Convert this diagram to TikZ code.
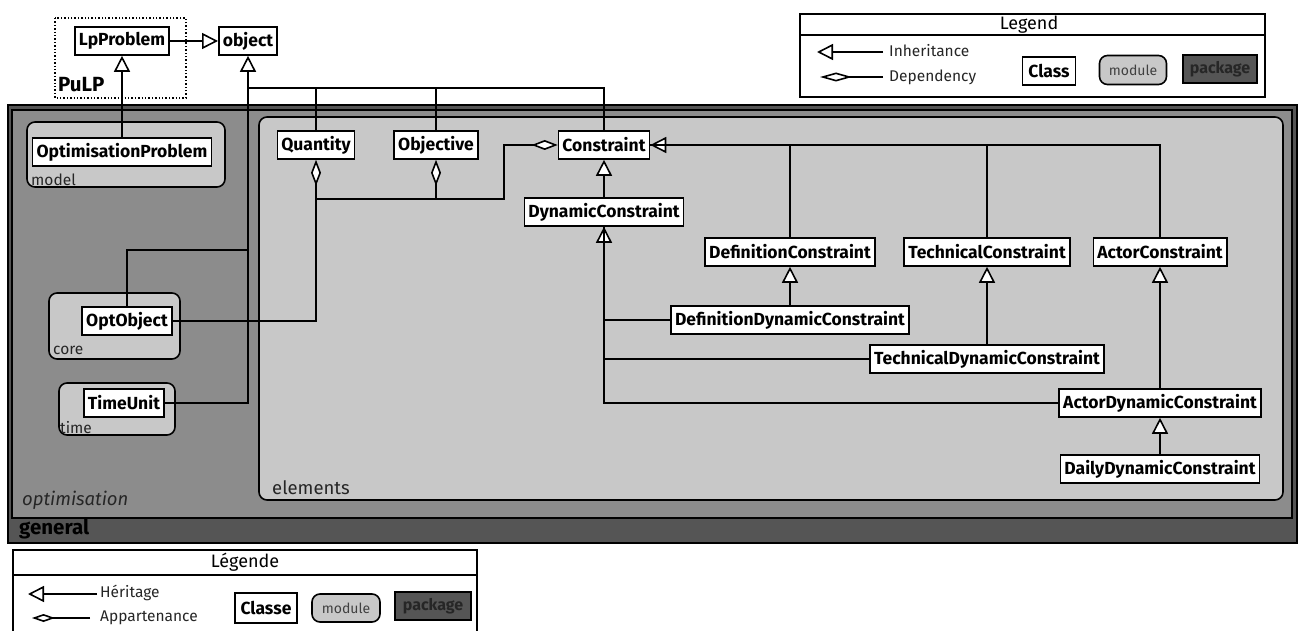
\documentclass[tikz,border=0pt]{standalone}
\usepackage{fontspec}
\setmainfont{Fira Sans}
\usetikzlibrary{arrows.meta}

\definecolor{genfill}{HTML}{555555}
\definecolor{optfill}{HTML}{8C8C8C}
\definecolor{modfill}{HTML}{C8C8C8}

\begin{document}
\begin{tikzpicture}[x=1pt, y=-1pt,
    cls/.style={draw, fill=white, line width=1.6pt, font=\bfseries\fontsize{17.5}{19}\selectfont,
      inner xsep=4pt, inner ysep=2pt, minimum height=28pt},
    modbox/.style={draw, fill=modfill, line width=1.6pt, rounded corners=8pt},
    pkgbox/.style={draw, line width=1.6pt},
    lbl/.style={anchor=west, inner sep=0pt, text=black!85},
    inh/.style={-{Triangle[fill=white, length=16pt, width=16pt]}, line width=1.6pt},
    dep/.style={-{Diamond[fill=white, length=26pt, width=10pt]}, line width=1.6pt},
    link/.style={line width=1.6pt}]
    \useasboundingbox (0,0) rectangle (1301,631);

    % packages and modules
    \draw[pkgbox, fill=genfill] (8,105) rectangle (1297,543);
    \draw[pkgbox, fill=optfill] (12,110) rectangle (1292,518);
    \draw[modbox] (259,117) rectangle (1283,500);
    \draw[modbox] (27,122) rectangle (225,187);
    \draw[modbox] (49,293) rectangle (180,359);
    \draw[modbox] (59,383) rectangle (175,435);
    \draw[dotted, line width=1.4pt] (55,18) rectangle (186,98);

    \node[lbl, text=black, font=\bfseries\fontsize{20.5}{22}\selectfont] (pulpLabel) at (58,85) {PuLP};
    \node[lbl, text=black, font=\bfseries\fontsize{20.5}{22}\selectfont] (generalLabel) at (19,529) {general};
    \node[lbl, font=\itshape\fontsize{18.5}{20}\selectfont] (optimLabel) at (22,500) {optimisation};
    \node[lbl, font=\fontsize{18.5}{20}\selectfont] (elementsLabel) at (272,488) {elements};
    \node[lbl, font=\fontsize{15.5}{17}\selectfont] (modelLabel) at (31,180) {model};
    \node[lbl, font=\fontsize{15.5}{17}\selectfont] (coreLabel) at (53,350) {core};
    \node[lbl, font=\fontsize{15.5}{17}\selectfont] (timeLabel) at (60,428) {time};

    % classes
    \node[cls] (LpProblem) at (122,41) {LpProblem};
    \node[cls] (object) at (248,41) {object};
    \node[cls] (OptimisationProblem) at (122,152) {OptimisationProblem};
    \node[cls] (OptObject) at (127,321) {OptObject};
    \node[cls] (TimeUnit) at (124,403) {TimeUnit};
    \node[cls] (Quantity) at (316,145) {Quantity};
    \node[cls] (Objective) at (436,145) {Objective};
    \node[cls] (Constraint) at (604,145) {Constraint};
    \node[cls] (DynamicConstraint) at (604,212) {DynamicConstraint};
    \node[cls] (DefinitionConstraint) at (790,252) {DefinitionConstraint};
    \node[cls] (TechnicalConstraint) at (987,252) {TechnicalConstraint};
    \node[cls] (ActorConstraint) at (1160,252) {ActorConstraint};
    \node[cls] (DefinitionDynamicConstraint) at (790,320) {DefinitionDynamicConstraint};
    \node[cls] (TechnicalDynamicConstraint) at (987,359) {TechnicalDynamicConstraint};
    \node[cls] (ActorDynamicConstraint) at (1160,403) {ActorDynamicConstraint};
    \node[cls] (DailyDynamicConstraint) at (1160,469) {DailyDynamicConstraint};

    \coordinate (objBus) at (248,88);
    \coordinate (optBus) at (248,250);
    \coordinate (depBus) at (316,199);
    \coordinate (depTurn) at (504,199);

    % inheritance
    \draw[inh] (LpProblem) -- (object);
    \draw[inh] (OptimisationProblem.north) -- (LpProblem.south);
    \draw[inh] (TimeUnit.east) -| (object.south);
    \draw[link] (OptObject.north) |- (optBus);
    \foreach \c in {Quantity, Objective, Constraint}
        \draw[link] (\c.north) |- (objBus);
    \draw[inh] (DynamicConstraint.north) -- (Constraint.south);
    \draw[inh] (ActorConstraint.north) |- (Constraint.east);
    \foreach \c in {DefinitionConstraint, TechnicalConstraint}
        \draw[link] (\c.north) |- (Constraint.east);
    \draw[inh] (ActorDynamicConstraint.west) -| (DynamicConstraint.south);
    \foreach \c in {DefinitionDynamicConstraint, TechnicalDynamicConstraint}
        \draw[link] (\c.west) -| (DynamicConstraint.south);
    \foreach \c in {Definition, Technical, Actor}
        \draw[inh] (\c DynamicConstraint.north) -- (\c Constraint.south);
    \draw[inh] (DailyDynamicConstraint.north) -- (ActorDynamicConstraint.south);

    % dependencies
    \draw[dep] (OptObject.east) -| (Quantity.south);
    \draw[dep] (depBus) -| (Objective.south);
    \draw[dep] (depBus) -- (depTurn) |- (Constraint.west);

    % legend
    \draw[pkgbox, fill=white] (800,14) rectangle (1265,35);
    \draw[pkgbox, fill=white] (800,35) rectangle (1265,97);
    \node[font=\fontsize{18}{20}\selectfont, inner sep=0pt] (legTitle) at (1029,25) {Legend};
    \coordinate (legInhA) at (817,52);
    \coordinate (legInhB) at (883,52);
    \coordinate (legDepA) at (820,77);
    \coordinate (legDepB) at (883,77);
    \draw[inh] (legInhB) -- (legInhA);
    \draw[dep, -{Diamond[fill=white, length=32pt, width=9pt]}] (legDepB) -- (legDepA);
    \node[lbl, font=\fontsize{15.5}{17}\selectfont] (legInh) at (889,51) {Inheritance};
    \node[lbl, font=\fontsize{15.5}{17}\selectfont] (legDep) at (889,77) {Dependency};
    \node[cls, minimum width=53pt] (legClass) at (1049,71) {Class};
    \node[modbox, minimum width=67pt, minimum height=29pt, inner sep=0pt, text=black!75,
        font=\fontsize{14}{16}\selectfont] (legModule) at (1133,70) {module};
    \node[pkgbox, fill=genfill, minimum width=74pt, minimum height=28pt, inner sep=0pt, text=black!85,
        font=\bfseries\fontsize{16}{18}\selectfont] (legPackage) at (1220,69) {package};

    \draw[pkgbox, fill=white] (13,550) rectangle (477,575);
    \draw[pkgbox, fill=white] (13,575) rectangle (477,640);
    \node[font=\fontsize{18}{20}\selectfont, inner sep=0pt] (legendeTitle) at (245,562) {Légende};
    \coordinate (legHerA) at (28,594);
    \coordinate (legHerB) at (97,594);
    \coordinate (legAppA) at (32,618);
    \coordinate (legAppB) at (90,618);
    \draw[inh] (legHerB) -- (legHerA);
    \draw[dep, -{Diamond[fill=white, length=23pt, width=8pt]}] (legAppB) -- (legAppA);
    \node[lbl, font=\fontsize{15.5}{17}\selectfont] (legHer) at (100,593) {Héritage};
    \node[lbl, font=\fontsize{15.5}{17}\selectfont] (legApp) at (100,618) {Appartenance};
    \node[cls, minimum width=62pt, minimum height=30pt] (legClasse) at (266,608) {Classe};
    \node[modbox, minimum width=68pt, minimum height=28pt, inner sep=0pt, text=black!75,
        font=\fontsize{14}{16}\selectfont] (legModule2) at (346,608) {module};
    \node[pkgbox, fill=genfill, minimum width=76pt, minimum height=28pt, inner sep=0pt, text=black!85,
        font=\bfseries\fontsize{16}{18}\selectfont] (legPackage2) at (433,606) {package};
\end{tikzpicture}
\end{document}
